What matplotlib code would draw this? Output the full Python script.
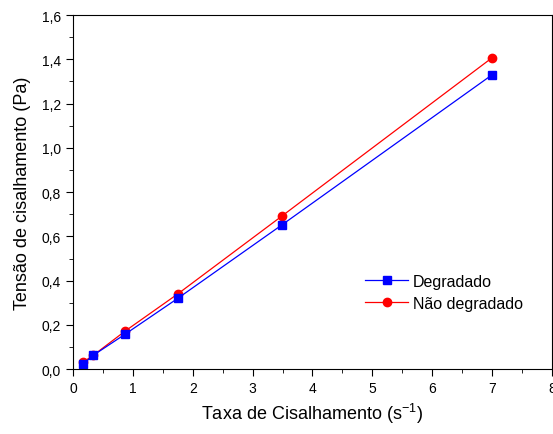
import matplotlib.pyplot as plt
from matplotlib.ticker import MultipleLocator, FuncFormatter

plt.rcParams['font.family'] = ['Liberation Sans', 'DejaVu Sans']

taxa = [0.17, 0.34, 0.87, 1.75, 3.49, 7.0]
degradado = [0.023, 0.063, 0.158, 0.32, 0.652, 1.33]
nao_degradado = [0.032, 0.063, 0.172, 0.34, 0.692, 1.407]

fig = plt.figure(figsize=(5.53, 4.35), dpi=100)
ax = fig.add_axes([0.132, 0.149, 0.866, 0.814])

ax.plot(taxa, nao_degradado, color='red', marker='o', markersize=6, linewidth=0.9, label='Não degradado')
ax.plot(taxa, degradado, color='blue', marker='s', markersize=6, linewidth=0.9, label='Degradado')

ax.set_xlim(0, 8)
ax.set_ylim(0, 1.6)
ax.xaxis.set_major_locator(MultipleLocator(1))
ax.xaxis.set_minor_locator(MultipleLocator(0.5))
ax.yaxis.set_major_locator(MultipleLocator(0.2))
ax.yaxis.set_minor_locator(MultipleLocator(0.1))
ax.yaxis.set_major_formatter(FuncFormatter(lambda v, p: f'{v:.1f}'.replace('.', ',')))
ax.tick_params(which='both', direction='out', top=False, right=False, labelsize=10)
ax.tick_params(which='major', length=5)
ax.tick_params(which='minor', length=3)

ax.set_xlabel('Taxa de Cisalhamento (s$\\mathregular{^{-1}}$)', fontsize=13, labelpad=4)
ax.set_ylabel('Tensão de cisalhamento (Pa)', fontsize=13, labelpad=8)

h, l = ax.get_legend_handles_labels()
ax.legend(h[::-1], l[::-1], frameon=False, fontsize=11.5, loc='upper left',
          bbox_to_anchor=(0.58, 0.31), handlelength=2.7, handletextpad=0.3, labelspacing=0.45)

fig.savefig('out.png', dpi=100)
